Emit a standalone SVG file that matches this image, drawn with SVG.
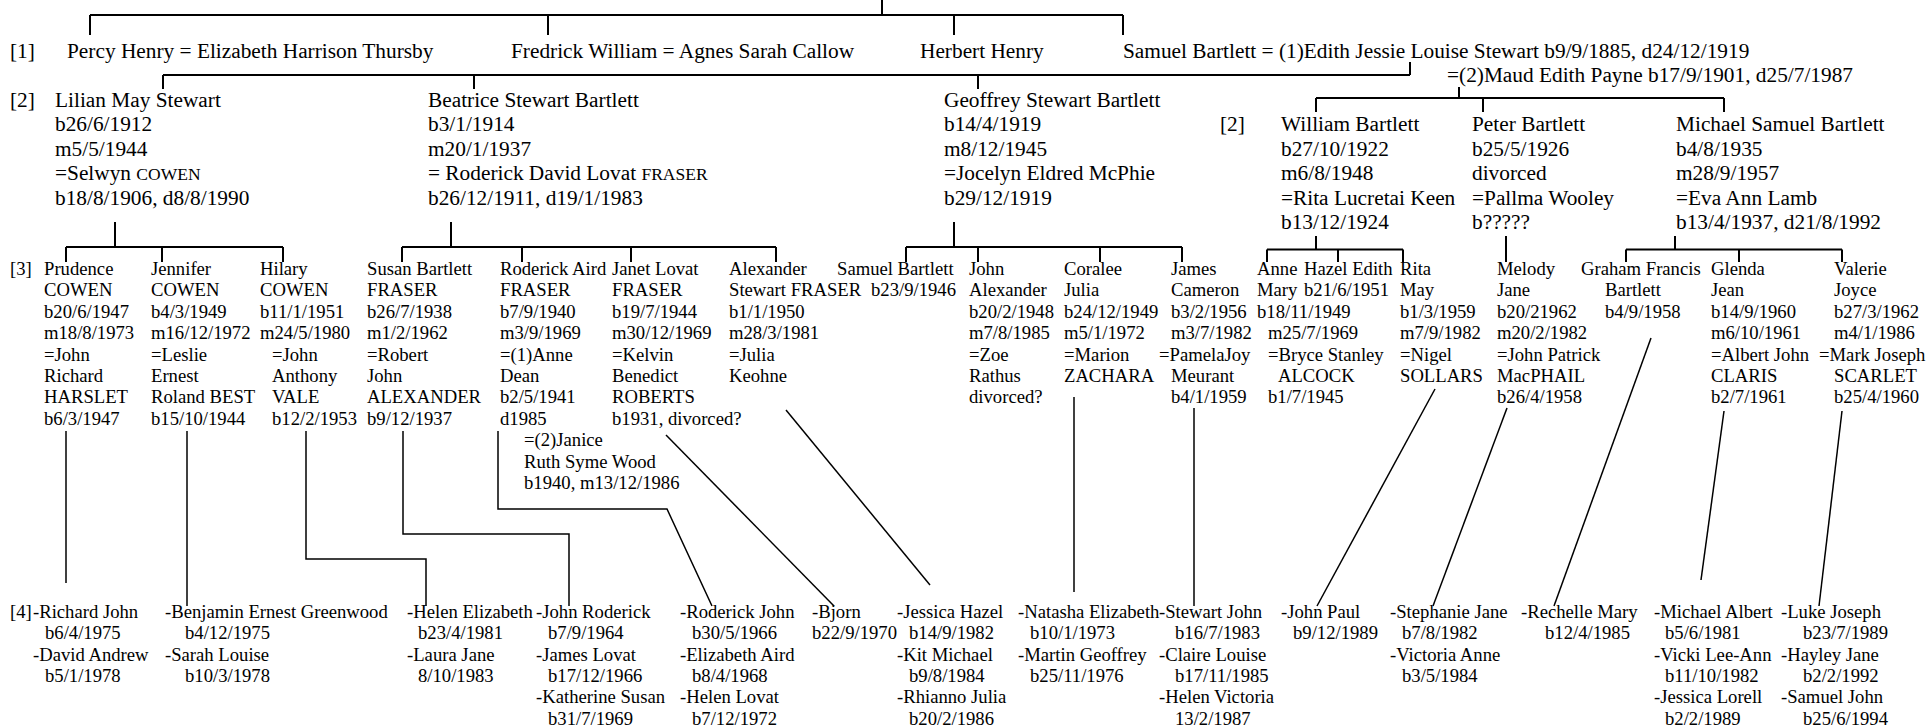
<svg xmlns="http://www.w3.org/2000/svg" width="1927" height="728" viewBox="0 0 1927 728">
<style>
text{font-family:"Liberation Serif","Times New Roman",serif;fill:#000}
.L{font-size:21.33px}
.S{font-size:18.67px}
.sc{font-size:17.5px}
.c{stroke:#000;stroke-width:2;fill:none}
.d{stroke:#000;stroke-width:1.5;fill:none}
</style>
<rect width="1927" height="728" fill="#fff"/>
<g id="connectors">
<path class="c" d="M882,0V15 M90,15H1123 M90,15V35 M548,15V35 M954,15V35 M1123,15V35"/>
<path class="c" d="M1410,62V75 M163,75H1410 M163,75V89 M474,75V89 M978,75V89"/>
<path class="c" d="M1459,87V98 M1316,98H1724 M1316,98V112 M1483,98V112 M1724,98V112"/>
<path class="c" d="M115,222V247 M66,247H283 M66,247V262 M162,247V262 M283,247V262"/>
<path class="c" d="M451,222V247 M402,247H776 M402,247V262 M522,247V262 M631,247V262 M776,247V262"/>
<path class="c" d="M954,222V247 M906,247H1182 M906,247V262 M978,247V262 M1100,247V262 M1182,247V262"/>
<path class="c" d="M1316,236V249.5 M1267,249.5H1403 M1267,249.5V262 M1338,249.5V262 M1403,249.5V262"/>
<path class="c" d="M1506,236V262"/>
<path class="c" d="M1675,236V249.5 M1626,249.5H1842 M1626,249.5V262 M1739,249.5V262 M1842,249.5V262"/>
<path class="d" d="M66,431V583"/>
<path class="d" d="M187,431V606"/>
<path class="d" d="M306,431V559H426V606"/>
<path class="d" d="M403,431V534H569V606"/>
<path class="d" d="M498,431V509H667L712,606"/>
<path class="d" d="M666,435L834,606"/>
<path class="d" d="M786,410L930,585"/>
<path class="d" d="M1074,397V592"/>
<path class="d" d="M1194,408V606"/>
<path class="d" d="M1435,389L1317,606"/>
<path class="d" d="M1507,408L1433,606"/>
<path class="d" d="M1651,338L1554,606"/>
<path class="d" d="M1724,411L1701,580"/>
<path class="d" d="M1842,411L1819,606"/>
</g>
<g id="labels">
<text class="L" x="10" y="57.5">[1]</text>
<text class="L" x="10" y="106.5">[2]</text>
<text class="L" x="1220" y="131">[2]</text>
<text class="S" x="10" y="275">[3]</text>
<text class="S" x="10" y="618">[4]</text>
</g>
<g id="gen1-percy"><text class="L" x="67" y="57.5">Percy Henry = Elizabeth Harrison Thursby</text></g>
<g id="gen1-fredrick"><text class="L" x="511" y="57.5">Fredrick William = Agnes Sarah Callow</text></g>
<g id="gen1-herbert"><text class="L" x="920" y="57.5">Herbert Henry</text></g>
<g id="gen1-samuel"><text class="L" x="1123" y="57.5">Samuel Bartlett = (1)Edith Jessie Louise Stewart b9/9/1885, d24/12/1919<tspan x="1447" y="82">=(2)Maud Edith Payne b17/9/1901, d25/7/1987</tspan></text></g>
<g id="gen2-lilian"><text class="L" x="55" y="106.5">Lilian May Stewart<tspan x="55" dy="24.6">b26/6/1912</tspan><tspan x="55" dy="24.6">m5/5/1944</tspan><tspan x="55" dy="24.6">=Selwyn <tspan class="sc">COWEN</tspan></tspan><tspan x="55" dy="24.6">b18/8/1906, d8/8/1990</tspan></text></g>
<g id="gen2-beatrice"><text class="L" x="428" y="106.5">Beatrice Stewart Bartlett<tspan x="428" dy="24.6">b3/1/1914</tspan><tspan x="428" dy="24.6">m20/1/1937</tspan><tspan x="428" dy="24.6">= Roderick David Lovat <tspan class="sc">FRASER</tspan></tspan><tspan x="428" dy="24.6">b26/12/1911, d19/1/1983</tspan></text></g>
<g id="gen2-geoffrey"><text class="L" x="944" y="106.5">Geoffrey Stewart Bartlett<tspan x="944" dy="24.6">b14/4/1919</tspan><tspan x="944" dy="24.6">m8/12/1945</tspan><tspan x="944" dy="24.6">=Jocelyn Eldred McPhie</tspan><tspan x="944" dy="24.6">b29/12/1919</tspan></text></g>
<g id="gen2-william"><text class="L" x="1281" y="131">William Bartlett<tspan x="1281" dy="24.6">b27/10/1922</tspan><tspan x="1281" dy="24.6">m6/8/1948</tspan><tspan x="1281" dy="24.6">=Rita Lucretai Keen</tspan><tspan x="1281" dy="24.6">b13/12/1924</tspan></text></g>
<g id="gen2-peter"><text class="L" x="1472" y="131">Peter Bartlett<tspan x="1472" dy="24.6">b25/5/1926</tspan><tspan x="1472" dy="24.6">divorced</tspan><tspan x="1472" dy="24.6">=Pallma Wooley</tspan><tspan x="1472" dy="24.6">b?????</tspan></text></g>
<g id="gen2-michael"><text class="L" x="1676" y="131">Michael Samuel Bartlett<tspan x="1676" dy="24.6">b4/8/1935</tspan><tspan x="1676" dy="24.6">m28/9/1957</tspan><tspan x="1676" dy="24.6">=Eva Ann Lamb</tspan><tspan x="1676" dy="24.6">b13/4/1937, d21/8/1992</tspan></text></g>
<g id="gen3-prudence"><text class="S" x="44" y="275">Prudence<tspan x="44" dy="21.4">COWEN</tspan><tspan x="44" dy="21.4">b20/6/1947</tspan><tspan x="44" dy="21.4">m18/8/1973</tspan><tspan x="44" dy="21.4">=John</tspan><tspan x="44" dy="21.4">Richard</tspan><tspan x="44" dy="21.4">HARSLET</tspan><tspan x="44" dy="21.4">b6/3/1947</tspan></text></g>
<g id="gen3-jennifer"><text class="S" x="151" y="275">Jennifer<tspan x="151" dy="21.4">COWEN</tspan><tspan x="151" dy="21.4">b4/3/1949</tspan><tspan x="151" dy="21.4">m16/12/1972</tspan><tspan x="151" dy="21.4">=Leslie</tspan><tspan x="151" dy="21.4">Ernest</tspan><tspan x="151" dy="21.4">Roland BEST</tspan><tspan x="151" dy="21.4">b15/10/1944</tspan></text></g>
<g id="gen3-hilary"><text class="S" x="260" y="275">Hilary<tspan x="260" dy="21.4">COWEN</tspan><tspan x="260" dy="21.4">b11/1/1951</tspan><tspan x="260" dy="21.4">m24/5/1980</tspan><tspan x="272" dy="21.4">=John</tspan><tspan x="272" dy="21.4">Anthony</tspan><tspan x="272" dy="21.4">VALE</tspan><tspan x="272" dy="21.4">b12/2/1953</tspan></text></g>
<g id="gen3-susan"><text class="S" x="367" y="275">Susan Bartlett<tspan x="367" dy="21.4">FRASER</tspan><tspan x="367" dy="21.4">b26/7/1938</tspan><tspan x="367" dy="21.4">m1/2/1962</tspan><tspan x="367" dy="21.4">=Robert</tspan><tspan x="367" dy="21.4">John</tspan><tspan x="367" dy="21.4">ALEXANDER</tspan><tspan x="367" dy="21.4">b9/12/1937</tspan></text></g>
<g id="gen3-roderick"><text class="S" x="500" y="275">Roderick Aird<tspan x="500" dy="21.4">FRASER</tspan><tspan x="500" dy="21.4">b7/9/1940</tspan><tspan x="500" dy="21.4">m3/9/1969</tspan><tspan x="500" dy="21.4">=(1)Anne</tspan><tspan x="500" dy="21.4">Dean</tspan><tspan x="500" dy="21.4">b2/5/1941</tspan><tspan x="500" dy="21.4">d1985</tspan><tspan x="524" dy="21.4">=(2)Janice</tspan><tspan x="524" dy="21.4">Ruth Syme Wood</tspan><tspan x="524" dy="21.4">b1940, m13/12/1986</tspan></text></g>
<g id="gen3-janet"><text class="S" x="612" y="275">Janet Lovat<tspan x="612" dy="21.4">FRASER</tspan><tspan x="612" dy="21.4">b19/7/1944</tspan><tspan x="612" dy="21.4">m30/12/1969</tspan><tspan x="612" dy="21.4">=Kelvin</tspan><tspan x="612" dy="21.4">Benedict</tspan><tspan x="612" dy="21.4">ROBERTS</tspan><tspan x="612" dy="21.4">b1931, divorced?</tspan></text></g>
<g id="gen3-alexander"><text class="S" x="729" y="275">Alexander<tspan x="729" dy="21.4">Stewart FRASER</tspan><tspan x="729" dy="21.4">b1/1/1950</tspan><tspan x="729" dy="21.4">m28/3/1981</tspan><tspan x="729" dy="21.4">=Julia</tspan><tspan x="729" dy="21.4">Keohne</tspan></text></g>
<g id="gen3-samuel"><text class="S" x="837" y="275">Samuel Bartlett<tspan x="871" dy="21.4">b23/9/1946</tspan></text></g>
<g id="gen3-john"><text class="S" x="969" y="275">John<tspan x="969" dy="21.4">Alexander</tspan><tspan x="969" dy="21.4">b20/2/1948</tspan><tspan x="969" dy="21.4">m7/8/1985</tspan><tspan x="969" dy="21.4">=Zoe</tspan><tspan x="969" dy="21.4">Rathus</tspan><tspan x="969" dy="21.4">divorced?</tspan></text></g>
<g id="gen3-coralee"><text class="S" x="1064" y="275">Coralee<tspan x="1064" dy="21.4">Julia</tspan><tspan x="1064" dy="21.4">b24/12/1949</tspan><tspan x="1064" dy="21.4">m5/1/1972</tspan><tspan x="1064" dy="21.4">=Marion</tspan><tspan x="1064" dy="21.4">ZACHARA</tspan></text></g>
<g id="gen3-james"><text class="S" x="1171" y="275">James<tspan x="1171" dy="21.4">Cameron</tspan><tspan x="1171" dy="21.4">b3/2/1956</tspan><tspan x="1171" dy="21.4">m3/7/1982</tspan><tspan x="1159" dy="21.4">=PamelaJoy</tspan><tspan x="1171" dy="21.4">Meurant</tspan><tspan x="1171" dy="21.4">b4/1/1959</tspan></text></g>
<g id="gen3-anne"><text class="S" x="1257" y="275">Anne<tspan x="1257" dy="21.4">Mary</tspan><tspan x="1257" dy="21.4">b18/11/1949</tspan><tspan x="1268" dy="21.4">m25/7/1969</tspan><tspan x="1268" dy="21.4">=Bryce Stanley</tspan><tspan x="1278" dy="21.4">ALCOCK</tspan><tspan x="1268" dy="21.4">b1/7/1945</tspan></text></g>
<g id="gen3-hazel"><text class="S" x="1304" y="275">Hazel Edith<tspan x="1304" dy="21.4">b21/6/1951</tspan></text></g>
<g id="gen3-rita"><text class="S" x="1400" y="275">Rita<tspan x="1400" dy="21.4">May</tspan><tspan x="1400" dy="21.4">b1/3/1959</tspan><tspan x="1400" dy="21.4">m7/9/1982</tspan><tspan x="1400" dy="21.4">=Nigel</tspan><tspan x="1400" dy="21.4">SOLLARS</tspan></text></g>
<g id="gen3-melody"><text class="S" x="1497" y="275">Melody<tspan x="1497" dy="21.4">Jane</tspan><tspan x="1497" dy="21.4">b20/21962</tspan><tspan x="1497" dy="21.4">m20/2/1982</tspan><tspan x="1497" dy="21.4">=John Patrick</tspan><tspan x="1497" dy="21.4">MacPHAIL</tspan><tspan x="1497" dy="21.4">b26/4/1958</tspan></text></g>
<g id="gen3-graham"><text class="S" x="1581" y="275">Graham Francis<tspan x="1605" dy="21.4">Bartlett</tspan><tspan x="1605" dy="21.4">b4/9/1958</tspan></text></g>
<g id="gen3-glenda"><text class="S" x="1711" y="275">Glenda<tspan x="1711" dy="21.4">Jean</tspan><tspan x="1711" dy="21.4">b14/9/1960</tspan><tspan x="1711" dy="21.4">m6/10/1961</tspan><tspan x="1711" dy="21.4">=Albert John</tspan><tspan x="1711" dy="21.4">CLARIS</tspan><tspan x="1711" dy="21.4">b2/7/1961</tspan></text></g>
<g id="gen3-valerie"><text class="S" x="1834" y="275">Valerie<tspan x="1834" dy="21.4">Joyce</tspan><tspan x="1834" dy="21.4">b27/3/1962</tspan><tspan x="1834" dy="21.4">m4/1/1986</tspan><tspan x="1819" dy="21.4">=Mark Joseph</tspan><tspan x="1834" dy="21.4">SCARLET</tspan><tspan x="1834" dy="21.4">b25/4/1960</tspan></text></g>
<g id="gen4-harslet"><text class="S" x="33" y="618">-Richard John<tspan x="45" dy="21.3">b6/4/1975</tspan><tspan x="33" dy="21.3">-David Andrew</tspan><tspan x="45" dy="21.3">b5/1/1978</tspan></text></g>
<g id="gen4-best"><text class="S" x="165" y="618">-Benjamin Ernest Greenwood<tspan x="185" dy="21.3">b4/12/1975</tspan><tspan x="165" dy="21.3">-Sarah Louise</tspan><tspan x="185" dy="21.3">b10/3/1978</tspan></text></g>
<g id="gen4-vale"><text class="S" x="407" y="618">-Helen Elizabeth<tspan x="418" dy="21.3">b23/4/1981</tspan><tspan x="407" dy="21.3">-Laura Jane</tspan><tspan x="418" dy="21.3">8/10/1983</tspan></text></g>
<g id="gen4-alexander"><text class="S" x="536" y="618">-John Roderick<tspan x="548" dy="21.3">b7/9/1964</tspan><tspan x="536" dy="21.3">-James Lovat</tspan><tspan x="548" dy="21.3">b17/12/1966</tspan><tspan x="536" dy="21.3">-Katherine Susan</tspan><tspan x="548" dy="21.3">b31/7/1969</tspan></text></g>
<g id="gen4-fraser"><text class="S" x="680" y="618">-Roderick John<tspan x="692" dy="21.3">b30/5/1966</tspan><tspan x="680" dy="21.3">-Elizabeth Aird</tspan><tspan x="692" dy="21.3">b8/4/1968</tspan><tspan x="680" dy="21.3">-Helen Lovat</tspan><tspan x="692" dy="21.3">b7/12/1972</tspan></text></g>
<g id="gen4-roberts"><text class="S" x="812" y="618">-Bjorn<tspan x="812" dy="21.3">b22/9/1970</tspan></text></g>
<g id="gen4-keohne"><text class="S" x="897" y="618">-Jessica Hazel<tspan x="909" dy="21.3">b14/9/1982</tspan><tspan x="897" dy="21.3">-Kit Michael</tspan><tspan x="909" dy="21.3">b9/8/1984</tspan><tspan x="897" dy="21.3">-Rhianno Julia</tspan><tspan x="909" dy="21.3">b20/2/1986</tspan></text></g>
<g id="gen4-zachara"><text class="S" x="1018" y="618">-Natasha Elizabeth<tspan x="1030" dy="21.3">b10/1/1973</tspan><tspan x="1018" dy="21.3">-Martin Geoffrey</tspan><tspan x="1030" dy="21.3">b25/11/1976</tspan></text></g>
<g id="gen4-james"><text class="S" x="1159" y="618">-Stewart John<tspan x="1175" dy="21.3">b16/7/1983</tspan><tspan x="1159" dy="21.3">-Claire Louise</tspan><tspan x="1175" dy="21.3">b17/11/1985</tspan><tspan x="1159" dy="21.3">-Helen Victoria</tspan><tspan x="1175" dy="21.3">13/2/1987</tspan></text></g>
<g id="gen4-sollars"><text class="S" x="1281" y="618">-John Paul<tspan x="1293" dy="21.3">b9/12/1989</tspan></text></g>
<g id="gen4-macphail"><text class="S" x="1390" y="618">-Stephanie Jane<tspan x="1402" dy="21.3">b7/8/1982</tspan><tspan x="1390" dy="21.3">-Victoria Anne</tspan><tspan x="1402" dy="21.3">b3/5/1984</tspan></text></g>
<g id="gen4-graham"><text class="S" x="1521" y="618">-Rechelle Mary<tspan x="1545" dy="21.3">b12/4/1985</tspan></text></g>
<g id="gen4-claris"><text class="S" x="1654" y="618">-Michael Albert<tspan x="1665" dy="21.3">b5/6/1981</tspan><tspan x="1654" dy="21.3">-Vicki Lee-Ann</tspan><tspan x="1665" dy="21.3">b11/10/1982</tspan><tspan x="1654" dy="21.3">-Jessica Lorell</tspan><tspan x="1665" dy="21.3">b2/2/1989</tspan></text></g>
<g id="gen4-scarlet"><text class="S" x="1781" y="618">-Luke Joseph<tspan x="1803" dy="21.3">b23/7/1989</tspan><tspan x="1781" dy="21.3">-Hayley Jane</tspan><tspan x="1803" dy="21.3">b2/2/1992</tspan><tspan x="1781" dy="21.3">-Samuel John</tspan><tspan x="1803" dy="21.3">b25/6/1994</tspan></text></g>
</svg>
